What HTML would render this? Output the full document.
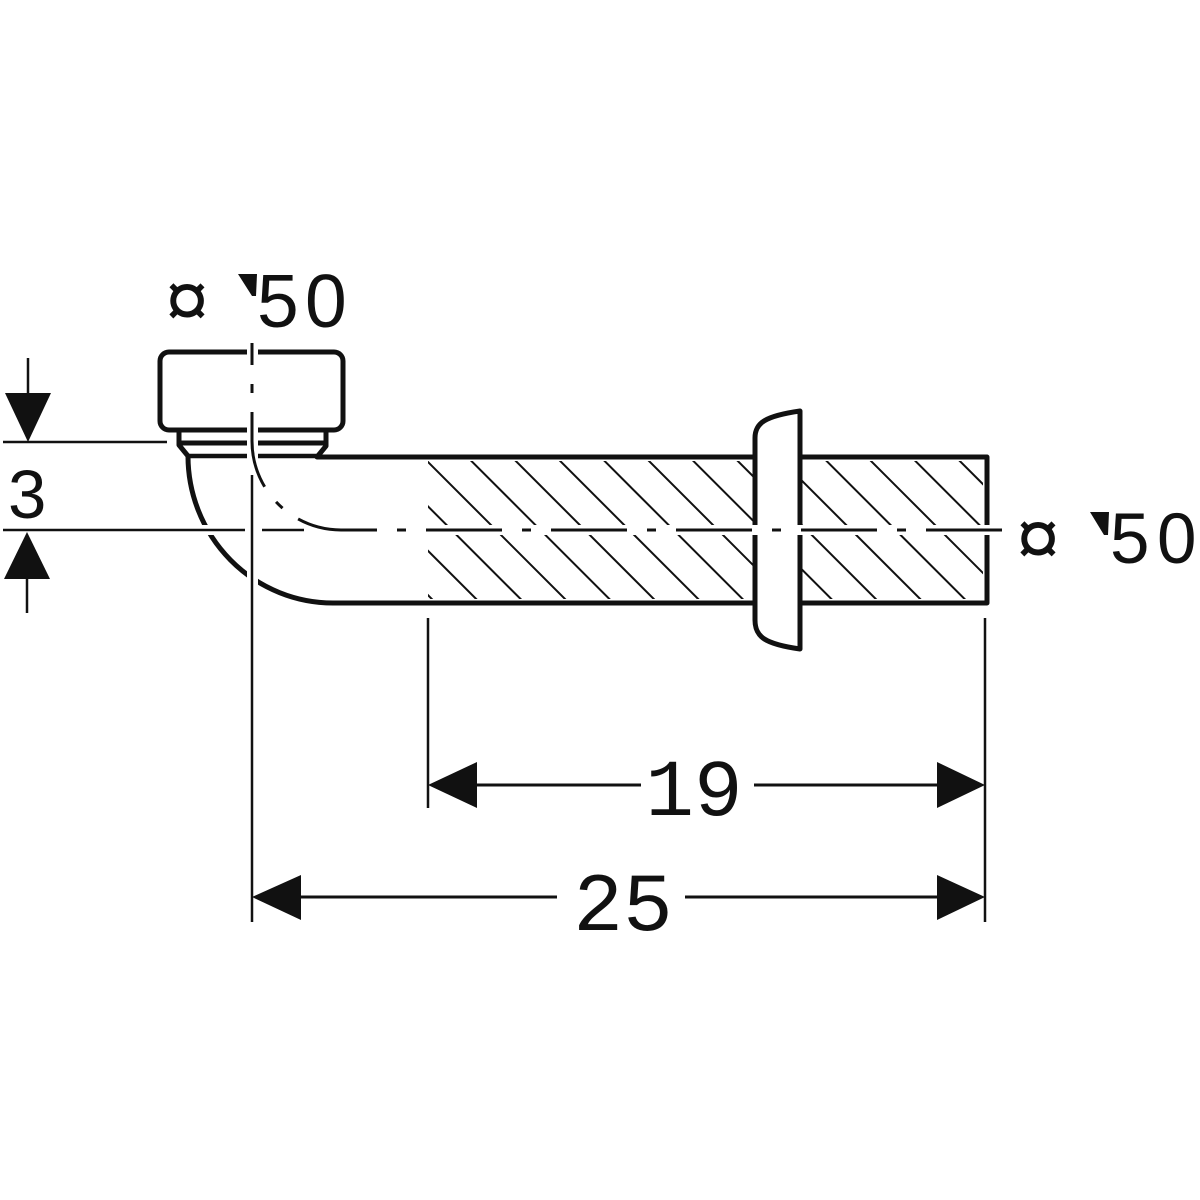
<!DOCTYPE html>
<html>
<head>
<meta charset="utf-8">
<style>
html,body{margin:0;padding:0;background:#fff;}
svg{display:block;}
text{fill:#111;}
</style>
</head>
<body>
<svg width="1200" height="1200" viewBox="0 0 1200 1200" xmlns="http://www.w3.org/2000/svg">
<rect x="0" y="0" width="1200" height="1200" fill="#fff"/>
<defs>
<clipPath id="hc"><rect x="428" y="461" width="555" height="138"/></clipPath>
</defs>

<!-- hatching -->
<g clip-path="url(#hc)" stroke="#111" stroke-width="2" fill="none">
<path d="M272.8,440 L452.8,620 M317.2,440 L497.2,620 M361.6,440 L541.6,620 M406,440 L586,620 M450.4,440 L630.4,620 M494.8,440 L674.8,620 M539.2,440 L719.2,620 M583.6,440 L763.6,620 M628,440 L808,620 M672.4,440 L852.4,620 M716.8,440 L896.8,620 M761.2,440 L941.2,620 M805.6,440 L985.6,620 M850,440 L1030,620 M894.4,440 L1074.4,620 M938.8,440 L1118.8,620"/>
</g>

<!-- pipe body with bend and neck -->
<path d="M179,430 L179,445 L188,456 A145 147 0 0 0 333,603 L987,603 L987,457 L317,457 L326,446 L326,430" fill="none" stroke="#111" stroke-width="5" stroke-linejoin="round"/>
<path d="M179,443 L326,443" stroke="#111" stroke-width="5"/>
<path d="M188,456 L318,456" stroke="#111" stroke-width="4.5"/>

<!-- cap -->
<rect x="160" y="352" width="183" height="78" rx="9" ry="9" fill="#fff" stroke="#111" stroke-width="5"/>

<!-- flange -->
<path d="M755,620 L755,438 C755,423 765,416 800,411 L800,649 C765,644 755,637 755,620 Z" fill="#fff" stroke="#111" stroke-width="5" stroke-linejoin="round"/>

<!-- white halos -->
<rect x="247" y="346" width="11" height="113" fill="#fff"/>
<rect x="420" y="525" width="575" height="10" fill="#fff"/>
<rect x="198" y="525" width="18" height="10" fill="#fff"/>
<rect x="247" y="565" width="11" height="27" fill="#fff"/>

<!-- centerlines -->
<path d="M252,343 L252,441 A89 89 0 0 0 341,530" fill="none" stroke="#111" stroke-width="3" stroke-dasharray="77 19 9 19" stroke-dashoffset="55"/>
<path d="M341,530 L1002,530" fill="none" stroke="#111" stroke-width="3" stroke-dasharray="76 20 9 20" stroke-dashoffset="40"/>

<!-- extension / dimension lines -->
<g stroke="#111" stroke-width="2.5" fill="none">
<path d="M3,442 L167,442"/>
<path d="M28,358 L28,395"/>
<path d="M27,579 L27,613"/>
<path d="M3,530 L245,530"/>
<path d="M262,530 L304,530"/>
<path d="M252,475 L252,922"/>
<path d="M428,618 L428,808"/>
<path d="M985,618 L985,922"/>
</g>
<polygon points="5,393 51,393 28,442" fill="#111"/>
<polygon points="27,532 4,579 50,579" fill="#111"/>
<text x="8" y="518" font-family="Liberation Sans, sans-serif" font-size="69">3</text>

<!-- dimensions 19 / 25 -->
<g stroke="#111" stroke-width="3" fill="none">
<path d="M477,785 L641,785"/>
<path d="M754,785 L937,785"/>
<path d="M301,897 L557,897"/>
<path d="M685,897 L937,897"/>
</g>
<polygon points="428,785 477,762 477,808" fill="#111"/>
<polygon points="985,785 937,762 937,808" fill="#111"/>
<polygon points="252,897 301,875 301,920" fill="#111"/>
<polygon points="985,897 937,875 937,920" fill="#111"/>
<text x="694" y="815" text-anchor="middle" font-family="Liberation Mono, monospace" font-size="81">19</text>
<text x="623" y="930" text-anchor="middle" font-family="Liberation Mono, monospace" font-size="83">25</text>

<!-- top label -->
<text x="165" y="327" font-family="Liberation Sans, sans-serif" font-size="79">¤</text>
<polygon points="238,274 257,274 256,296 252,296" fill="#111"/>
<text font-family="Liberation Sans, sans-serif" font-size="75" y="327"><tspan x="257">5</tspan><tspan x="305">0</tspan></text>

<!-- right label -->
<text x="1016" y="565" font-family="Liberation Sans, sans-serif" font-size="79">¤</text>
<polygon points="1090,512 1109,512 1108,535 1104,535" fill="#111"/>
<text font-family="Liberation Sans, sans-serif" font-size="71" y="563"><tspan x="1110">5</tspan><tspan x="1157">0</tspan></text>
</svg>
</body>
</html>
